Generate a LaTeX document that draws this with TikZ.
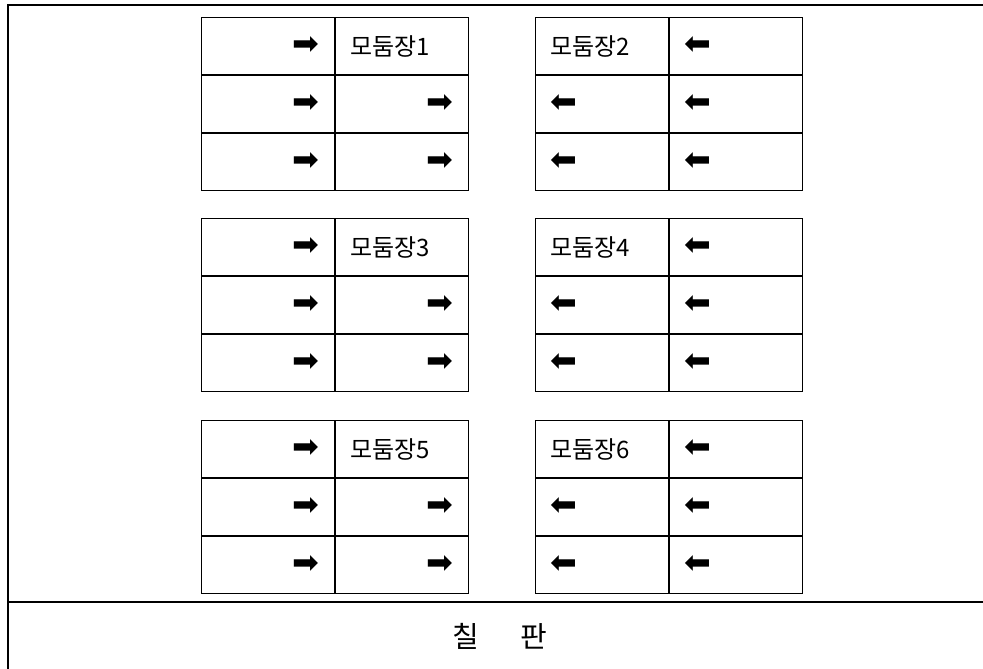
\documentclass[tikz,border=0pt]{standalone}
\usepackage{fontspec}
\setmainfont{Noto Sans CJK KR}
\newfontfamily\arrowfont{DejaVu Sans}
\newcommand{\rarr}{{\arrowfont\fontsize{32}{32}\selectfont ➡}}
\newcommand{\larr}{{\arrowfont\fontsize{32}{32}\selectfont ⬅}}

\begin{document}
\begin{tikzpicture}[x=1pt, y=-1pt]
	\tikzset{cell/.style={draw, line width=1pt, minimum width=133pt, minimum height=57pt,
				inner xsep=15pt, inner ysep=0pt, text width=103pt, anchor=north west,
				font=\fontsize{24}{24}\selectfont}}
	\tikzset{rcell/.style={cell, align=right}}
	\tikzset{lcell/.style={cell, align=left}}
	\tikzset{frame/.style={line width=1.5pt}}

	\clip (0,0) rectangle (983,669);
	\draw[frame] (8,5) rectangle (995,690);
	\draw[frame] (8,602) -- (995,602);
	\node[font=\fontsize{29}{29}\selectfont] (board) at (500,636) {칠\hspace{42pt}판};

	% left tables: arrows to the right
	\foreach \t/\y in {1/17, 3/218, 5/420} {
		\node[rcell] (t\t a1) at (201,\y) {\rarr};
		\node[lcell] (t\t b1) at (t\t a1.north east) {모둠장\t};
		\node[rcell] (t\t a2) at (t\t a1.south west) {\rarr};
		\node[rcell] (t\t b2) at (t\t a2.north east) {\rarr};
		\node[rcell] (t\t a3) at (t\t a2.south west) {\rarr};
		\node[rcell] (t\t b3) at (t\t a3.north east) {\rarr};
	}

	% right tables: arrows to the left
	\foreach \t/\y in {2/17, 4/218, 6/420} {
		\node[lcell] (t\t a1) at (535,\y) {모둠장\t};
		\node[lcell] (t\t b1) at (t\t a1.north east) {\larr};
		\node[lcell] (t\t a2) at (t\t a1.south west) {\larr};
		\node[lcell] (t\t b2) at (t\t a2.north east) {\larr};
		\node[lcell] (t\t a3) at (t\t a2.south west) {\larr};
		\node[lcell] (t\t b3) at (t\t a3.north east) {\larr};
	}
\end{tikzpicture}
\end{document}
